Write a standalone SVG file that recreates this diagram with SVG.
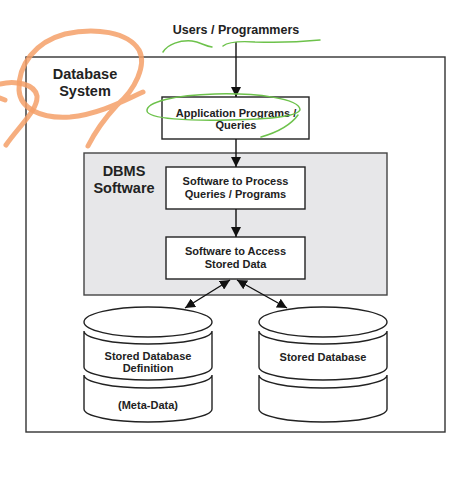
<svg xmlns="http://www.w3.org/2000/svg" width="469" height="479" viewBox="0 0 469 479">
<defs>
<style>
.box{fill:#fff;stroke:#222;stroke-width:1.4}
.dbms{fill:#e7e7e9;stroke:#444;stroke-width:1.4}
.outer{fill:none;stroke:#333;stroke-width:1.4}
.t{font-family:"Liberation Sans",Arial,sans-serif;font-weight:bold;fill:#222;text-anchor:middle}
.s11{font-size:11px}
.s14{font-size:14.5px}
.s12{font-size:12.5px}
.line{fill:none;stroke:#111;stroke-width:1.4}
.cyl{fill:none;stroke:#222;stroke-width:1.4}
.lid{fill:#fff;stroke:#222;stroke-width:1.4}
.orange{fill:none;stroke:#f5a068;stroke-width:5;stroke-linecap:round;stroke-linejoin:round;opacity:0.85}
.green{fill:none;stroke:#6dc24b;stroke-width:1.5;stroke-linecap:round}
</style>
<marker id="ah" viewBox="0 0 10 10" refX="10" refY="5" markerWidth="10" markerHeight="10" markerUnits="userSpaceOnUse" orient="auto-start-reverse">
<path d="M0,0 L10,5 L0,10 z" fill="#111"/>
</marker>
</defs>
<rect width="469" height="479" fill="#fff"/>

<g id="database-system">
<rect class="outer" x="26" y="57" width="419" height="375"/>
<text class="t s14" x="85" y="79">Database</text>
<text class="t s14" x="85" y="96">System</text>
</g>

<g id="users">
<text class="t s12" x="236" y="33.5">Users / Programmers</text>
</g>

<g id="app-programs">
<rect class="box" x="162" y="97" width="147" height="42"/>
<text class="t s11" x="236" y="116.5">Application Programs /</text>
<text class="t s11" x="236" y="129">Queries</text>
</g>

<g id="dbms-software">
<rect class="dbms" x="84" y="153" width="303" height="142"/>
<text class="t s14" x="124" y="176">DBMS</text>
<text class="t s14" x="124" y="192.5">Software</text>
</g>

<g id="process">
<rect class="box" x="166" y="167" width="139" height="42"/>
<text class="t s11" x="235.5" y="185">Software to Process</text>
<text class="t s11" x="235.5" y="197.5">Queries / Programs</text>
</g>

<g id="access">
<rect class="box" x="166" y="237" width="139" height="42"/>
<text class="t s11" x="235.5" y="255">Software to Access</text>
<text class="t s11" x="235.5" y="267.5">Stored Data</text>
</g>

<g id="stored-definition">
<ellipse class="lid" cx="148" cy="322" rx="64" ry="15"/>
<path class="cyl" d="M84,331 A64,13 0 0 0 212,331 M84,331 V367 A64,13 0 0 0 212,367 V331"/>
<path class="cyl" d="M84,375 A64,13 0 0 0 212,375 M84,375 V409 A64,13 0 0 0 212,409 V375"/>
<text class="t s11" x="148" y="360">Stored Database</text>
<text class="t s11" x="148" y="371.5">Definition</text>
<text class="t s11" x="148" y="409">(Meta-Data)</text>
</g>

<g id="stored-database">
<ellipse class="lid" cx="323" cy="322" rx="64" ry="15"/>
<path class="cyl" d="M259,331 A64,13 0 0 0 387,331 M259,331 V367 A64,13 0 0 0 387,367 V331"/>
<path class="cyl" d="M259,375 A64,13 0 0 0 387,375 M259,375 V409 A64,13 0 0 0 387,409 V375"/>
<text class="t s11" x="323" y="360.5">Stored Database</text>
</g>

<g id="connectors">
<line class="line" x1="236" y1="42" x2="236" y2="97" marker-end="url(#ah)"/>
<line class="line" x1="236" y1="139" x2="236" y2="167" marker-end="url(#ah)"/>
<line class="line" x1="236" y1="209" x2="236" y2="237" marker-end="url(#ah)"/>
<line class="line" x1="230" y1="280" x2="185" y2="308" marker-start="url(#ah)" marker-end="url(#ah)"/>
<line class="line" x1="237" y1="280" x2="287" y2="308" marker-start="url(#ah)" marker-end="url(#ah)"/>
</g>

<g id="annotations">
<path class="orange" d="M143,92 C125,100 100,114 70,117 C40,119 20,108 19,90 C18,65 35,42 65,34 C95,27 128,32 139,50 C147,65 135,90 117,105 C105,118 95,132 88,146"/>
<path class="orange" d="M0,84 C15,80 35,84 37,96 C38,110 20,125 6,145"/>
<path class="orange" d="M0,98 L5,100"/>
<path class="green" d="M163,52 C168,44 180,40 192,41 C200,42 205,46 212,47"/>
<path class="green" d="M223,46 C228,42 240,41 255,42 C280,43 300,42 320,40"/>
<path class="green" d="M300,110 C300,98 255,93 215,94 C175,95 146,102 147,111 C148,119 190,121 230,120 C268,119 296,117 300,110 M298,115 C290,126 275,133 261,137"/>
</g>
</svg>
